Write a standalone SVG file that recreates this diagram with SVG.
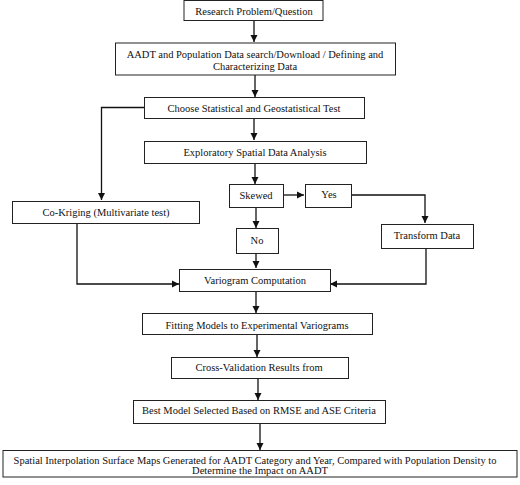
<svg xmlns="http://www.w3.org/2000/svg" width="520" height="485" viewBox="0 0 520 485">
<style>
.box{fill:#fff;stroke:#222;stroke-width:1}
.t{font-family:"Liberation Serif","Times New Roman","DejaVu Serif",serif;font-size:10.5px;fill:#111;text-anchor:middle}
.c{fill:none;stroke:#111;stroke-width:1.3}
</style>
<defs>
<marker id="ah" markerWidth="8" markerHeight="8" refX="7" refY="4" orient="auto" markerUnits="userSpaceOnUse">
<path d="M0,0.5 L7,4 L0,7.5 Z" fill="#111"/>
</marker>
</defs>
<rect width="520" height="485" fill="#fff"/>
<g id="connectors">
<path class="c" d="M254,21 V42" marker-end="url(#ah)"/>
<path class="c" d="M255,75 V97" marker-end="url(#ah)"/>
<path class="c" d="M254,118 V140" marker-end="url(#ah)"/>
<path class="c" d="M144,107.5 H101.5 V200" marker-end="url(#ah)"/>
<path class="c" d="M255,163 V184" marker-end="url(#ah)"/>
<path class="c" d="M283,195 H304" marker-end="url(#ah)"/>
<path class="c" d="M351,195 H425 V223" marker-end="url(#ah)"/>
<path class="c" d="M256,207 V228" marker-end="url(#ah)"/>
<path class="c" d="M256,253 V268" marker-end="url(#ah)"/>
<path class="c" d="M77,223 V284 H179" marker-end="url(#ah)"/>
<path class="c" d="M426,248 V284 H330" marker-end="url(#ah)"/>
<path class="c" d="M256,291 V313" marker-end="url(#ah)"/>
<path class="c" d="M257,334 V357" marker-end="url(#ah)"/>
<path class="c" d="M258,378 V400" marker-end="url(#ah)"/>
<path class="c" d="M260,423 V450" marker-end="url(#ah)"/>
</g>
<g id="n1"><rect class="box" x="184" y="0.5" width="139" height="20"/><text class="t" x="254" y="15">Research Problem/Question</text></g>
<g id="n2"><rect class="box" x="115.5" y="43" width="280" height="32"/><text class="t" x="255" y="58">AADT and Population Data search/Download / Defining and</text><text class="t" x="255" y="70">Characterizing Data</text></g>
<g id="n3"><rect class="box" x="144.5" y="97.5" width="220" height="21"/><text class="t" x="254" y="111.5">Choose Statistical and Geostatistical Test</text></g>
<g id="n4"><rect class="box" x="144.5" y="141.5" width="222" height="22"/><text class="t" x="255" y="155.5">Exploratory Spatial Data Analysis</text></g>
<g id="n5"><rect class="box" x="229.5" y="184.5" width="54" height="23"/><text class="t" x="256" y="198.5">Skewed</text></g>
<g id="n6"><rect class="box" x="305.5" y="184.5" width="46" height="23"/><text class="t" x="329" y="198">Yes</text></g>
<g id="n7"><rect class="box" x="12.5" y="201.5" width="187" height="22"/><text class="t" x="106" y="216">Co-Kriging (Multivariate test)</text></g>
<g id="n8"><rect class="box" x="236.5" y="228.5" width="42" height="25"/><text class="t" x="257" y="243.5">No</text></g>
<g id="n9"><rect class="box" x="381.5" y="224.5" width="92" height="24"/><text class="t" x="427" y="238.5">Transform Data</text></g>
<g id="n10"><rect class="box" x="179.5" y="269.5" width="151" height="22"/><text class="t" x="255" y="283.5">Variogram Computation</text></g>
<g id="n11"><rect class="box" x="142.5" y="313.5" width="230" height="21"/><text class="t" x="257" y="328.5">Fitting Models to Experimental Variograms</text></g>
<g id="n12"><rect class="box" x="171.5" y="357.5" width="177" height="21"/><text class="t" x="259" y="371">Cross-Validation Results from</text></g>
<g id="n13"><rect class="box" x="133.5" y="400.5" width="252" height="23"/><text class="t" x="259" y="414">Best Model Selected Based on RMSE and ASE Criteria</text></g>
<g id="n14"><rect class="box" x="3" y="450.5" width="514" height="26.5"/><text class="t" x="255" y="464">Spatial Interpolation Surface Maps Generated for AADT Category and Year, Compared with Population Density to</text><text class="t" x="260" y="474">Determine the Impact on AADT</text></g>
</svg>
